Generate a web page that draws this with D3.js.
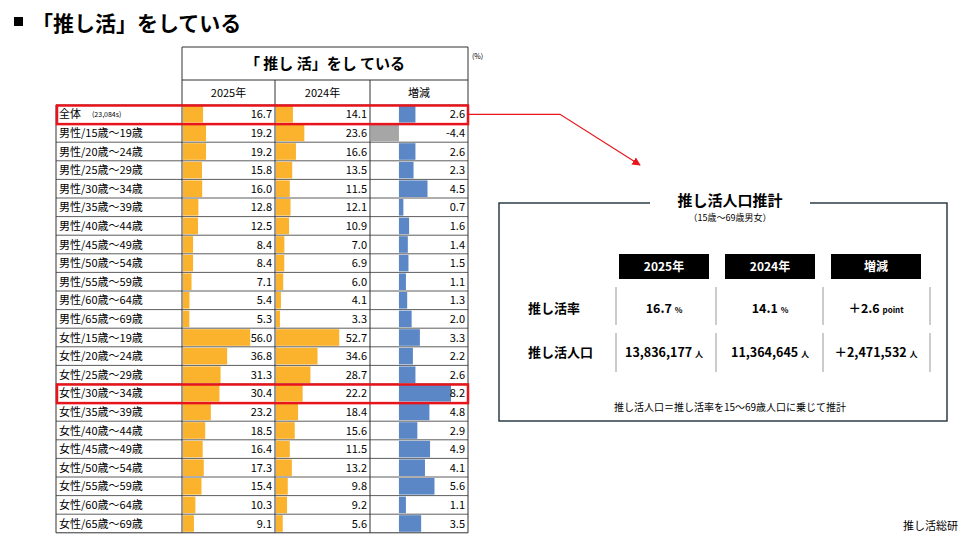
<!DOCTYPE html>
<html><head><meta charset="utf-8">
<script src="https://cdn.jsdelivr.net/npm/d3@7"></script>
<style>body{margin:0;background:#fff;font-family:"Noto Sans CJK JP",sans-serif}</style>
</head><body>
<script>
var labels = ["全体","男性/15歳～19歳","男性/20歳～24歳","男性/25歳～29歳","男性/30歳～34歳","男性/35歳～39歳","男性/40歳～44歳","男性/45歳～49歳","男性/50歳～54歳","男性/55歳～59歳","男性/60歳～64歳","男性/65歳～69歳","女性/15歳～19歳","女性/20歳～24歳","女性/25歳～29歳","女性/30歳～34歳","女性/35歳～39歳","女性/40歳～44歳","女性/45歳～49歳","女性/50歳～54歳","女性/55歳～59歳","女性/60歳～64歳","女性/65歳～69歳"];
var v2025 = [16.7,19.2,19.2,15.8,16.0,12.8,12.5,8.4,8.4,7.1,5.4,5.3,56.0,36.8,31.3,30.4,23.2,18.5,16.4,17.3,15.4,10.3,9.1];
var v2024 = [14.1,23.6,16.6,13.5,11.5,12.1,10.9,7.0,6.9,6.0,4.1,3.3,52.7,34.6,28.7,22.2,18.4,15.6,11.5,13.2,9.8,9.2,5.6];
var diff = [2.6,-4.4,2.6,2.3,4.5,0.7,1.6,1.4,1.5,1.1,1.3,2.0,3.3,2.2,2.6,8.2,4.8,2.9,4.9,4.1,5.6,1.1,3.5];

var W=977,H=540;
var svg=d3.select("body").append("svg").attr("width",W).attr("height",H);

svg.append("rect").attr("x",14).attr("y",17).attr("width",9).attr("height",9).attr("fill","#000");
svg.append("text").attr("x",32).attr("y",31).text("「推し活」をしている").style("font-size","21px").style("font-weight","bold");

var x0=56,xa=182,xb=275,xc=370,xd=468,topY=105,rowH=18.6;
var y=d3.scaleBand().domain(d3.range(labels.length)).range([topY,topY+rowH*labels.length]);
var xs=d3.scaleLinear().domain([0,100]).range([0,120]);
var xdz=d3.scaleLinear().domain([-4.4,8.2]).range([371,451]);

var g=svg.append("g");
g.append("line").attr("x1",xa).attr("x2",xd).attr("y1",47).attr("y2",47).attr("stroke","#333");
g.append("line").attr("x1",xa).attr("x2",xd).attr("y1",80).attr("y2",80).attr("stroke","#333");
[xa,xb,xc,xd].forEach(function(x,i){
  g.append("line").attr("x1",x).attr("x2",x).attr("y1",i==0||i==3?47:80).attr("y2",y.range()[1]).attr("stroke","#333");
});
g.append("line").attr("x1",x0).attr("x2",x0).attr("y1",topY).attr("y2",y.range()[1]).attr("stroke","#333");
g.append("text").attr("x",(xa+xd)/2).attr("y",69).attr("text-anchor","middle").text("「 推し 活」をし ている").style("font-size","15px").style("font-weight","bold");
g.append("text").attr("x",472).attr("y",59).text("(%)").style("font-size","7px");
[["2025年",xa,xb],["2024年",xb,xc],["増減",xc,xd]].forEach(function(h){
  g.append("text").attr("x",(h[1]+h[2])/2).attr("y",97).attr("text-anchor","middle").text(h[0]).style("font-size","11px");
});

labels.forEach(function(l,i){
  var yy=y(i),bh=y.bandwidth();
  g.append("line").attr("x1",x0).attr("x2",xd).attr("y1",yy).attr("y2",yy).attr("stroke","#333").attr("stroke-width",0.8);
  g.append("text").attr("x",x0+3).attr("y",yy+bh/2+4).style("font-size","11px").text(l);
  if(i==0) g.append("text").attr("x",x0+36).attr("y",yy+bh/2+3).style("font-size","7px").text("(23,084s)");
  g.append("rect").attr("x",xa+1).attr("y",yy+1).attr("width",xs(v2025[i])).attr("height",bh-2).attr("fill","#fbb22c");
  g.append("rect").attr("x",xb+1).attr("y",yy+1).attr("width",xs(v2024[i])).attr("height",bh-2).attr("fill","#fbb22c");
  var d=diff[i];
  g.append("rect").attr("x",Math.min(xdz(0),xdz(d))).attr("y",yy+1).attr("width",Math.abs(xdz(d)-xdz(0))).attr("height",bh-2).attr("fill",d<0?"#a6a6a6":"#5b87c6");
  [[v2025[i],xb],[v2024[i],xc],[d,xd]].forEach(function(v){
    g.append("text").attr("x",v[1]-3).attr("y",yy+bh/2+4).attr("text-anchor","end").style("font-size","11px").text(v[0].toFixed(1));
  });
});
g.append("line").attr("x1",x0).attr("x2",xd).attr("y1",y.range()[1]).attr("y2",y.range()[1]).attr("stroke","#333");

[0,15].forEach(function(i){
  svg.append("rect").attr("x",x0+1).attr("y",y(i)+0.5).attr("width",xd-x0-1).attr("height",y.bandwidth()).attr("fill","none").attr("stroke","#e8141b").attr("stroke-width",2.5);
});
svg.append("defs").append("marker").attr("id","ah").attr("viewBox","0 0 10 10").attr("refX",9).attr("refY",5).attr("markerWidth",7).attr("markerHeight",7).attr("orient","auto")
  .append("path").attr("d","M0,0L10,5L0,10z").attr("fill","#e8141b");
var ay=y(0)+y.bandwidth()/2;
svg.append("polyline").attr("points",xd+","+ay+" 560,"+ay+" 640,165").attr("fill","none").attr("stroke","#e8141b").attr("stroke-width",1.2).attr("marker-end","url(#ah)");

var p=svg.append("g");
p.append("path").attr("d","M650,203H499V421H947V203H810").attr("fill","none").attr("stroke","#2c3e48").attr("stroke-width",1.5);
p.append("text").attr("x",730).attr("y",206).attr("text-anchor","middle").text("推し活人口推計").style("font-size","15px").style("font-weight","bold");
p.append("text").attr("x",730).attr("y",221).attr("text-anchor","middle").text("（15歳～69歳男女）").style("font-size","9px");
var cols=[664,770,876];
["2025年","2024年","増減"].forEach(function(h,i){
  p.append("rect").attr("x",cols[i]-45).attr("y",254).attr("width",90).attr("height",25).attr("fill","#000");
  p.append("text").attr("x",cols[i]).attr("y",271).attr("text-anchor","middle").attr("fill","#fff").text(h).style("font-size","12px").style("font-weight","bold");
});
[616,716,823,930].forEach(function(x){
  p.append("line").attr("x1",x).attr("x2",x).attr("y1",287).attr("y2",325).attr("stroke","#bbb").attr("stroke-width",1.5);
  p.append("line").attr("x1",x).attr("x2",x).attr("y1",333).attr("y2",372).attr("stroke","#bbb").attr("stroke-width",1.5);
});
var rows=[["推し活率",["16.7","14.1","＋2.6"],["%","%","point"],313],["推し活人口",["13,836,177","11,364,645","＋2,471,532"],["人","人","人"],357]];
rows.forEach(function(r){
  p.append("text").attr("x",528).attr("y",r[3]).text(r[0]).style("font-size","13px").style("font-weight","bold");
  r[1].forEach(function(v,i){
    var t=p.append("text").attr("x",cols[i]).attr("y",r[3]).attr("text-anchor","middle").style("font-size","12.5px").style("font-weight","bold");
    t.append("tspan").text(v+" ");
    t.append("tspan").text(r[2][i]).style("font-size","8px");
  });
});
p.append("text").attr("x",730).attr("y",411).attr("text-anchor","middle").text("推し活人口＝推し活率を15～69歳人口に乗じて推計").style("font-size","10px");
svg.append("text").attr("x",958).attr("y",530).attr("text-anchor","end").text("推し活総研").style("font-size","11px");
</script>
</body></html>
